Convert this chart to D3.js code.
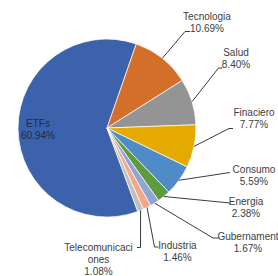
<!DOCTYPE html>
<html><head><meta charset="utf-8">
<script src="https://cdn.jsdelivr.net/npm/d3@7"></script>
<style>html,body{margin:0;padding:0;background:#fff;}svg{display:block;}</style>
</head><body>
<svg id="c" width="278" height="276"></svg>
<script>
const categories = ["ETFs","Tecnologia","Salud","Finaciero","Consumo","Energia","Gubernamental","Industria","Telecomunicaciones"];
const values = [60.94,10.69,8.40,7.77,5.59,2.38,1.67,1.46,1.08];
const labelNames = [["ETFs"],["Tecnologia"],["Salud"],["Finaciero"],["Consumo"],["Energia"],["Gubernament"],["Industria"],["Telecomunicaci","ones"]];
const colors = ["#3C62AC","#D46F2B","#949494","#E5AA00","#4F8CC7","#5E9A3E","#92A3D6","#F2A988","#C0C0C0"];

// label layout: center x, first baseline y, leader points after arc point
const layout = [
  {x:38, y:126.5, leader:null},
  {x:207, y:19.5, leader:[[185,31.5],[190,31.5]]},
  {x:236, y:56, leader:[[218.5,68],[222,68]]},
  {x:254, y:116, leader:[[229,128.5],[233,128.5]]},
  {x:254, y:173, leader:[[230,172.5]]},
  {x:246, y:205, leader:[[230,203]]},
  {x:248, y:240, leader:[[213,238],[218.5,238]]},
  {x:177.5, y:249, leader:[[154.5,247],[158.5,247]]},
  {x:98.5, y:250.5, leader:[[140.5,247.5],[137,247.5]]}
];

const cx = 107, cy = 128, r = 89;
const svg = d3.select("#c");
const g = svg.append("g").attr("transform",`translate(${cx},${cy})`);

const total = d3.sum(values);
const etfAngle = values[0]/total*2*Math.PI;
const start = 0.335 - etfAngle;
const pie = d3.pie().sort(null).value(d=>d).startAngle(start).endAngle(start+2*Math.PI);
const arcs = pie(values);
const arc = d3.arc().innerRadius(0).outerRadius(r);

g.selectAll("path.slice").data(arcs).join("path")
  .attr("class","slice")
  .attr("d",arc)
  .attr("fill",(d,i)=>colors[i])
  .attr("stroke","#fff").attr("stroke-width",0.7);

const line = d3.line();
arcs.forEach((d,i)=>{
  const L = layout[i];
  if(L.leader){
    const a = (d.startAngle+d.endAngle)/2;
    const p0 = [cx + r*Math.sin(a), cy - r*Math.cos(a)];
    svg.append("path").attr("d", line([p0, ...L.leader]))
      .attr("fill","none").attr("stroke","#262626").attr("stroke-width",0.9);
  }
  const lines = [...labelNames[i], values[i].toFixed(2)+"%"];
  const t = svg.append("text").attr("text-anchor","middle")
    .attr("font-family","'Liberation Sans', Arial, sans-serif").attr("font-size","10px")
    .attr("fill", i===0 ? "#1f2a44" : "#404040");
  lines.forEach((s,k)=>{
    t.append("tspan").attr("x",L.x).attr("y",L.y + k*12).text(s);
  });
});
</script>
</body></html>
